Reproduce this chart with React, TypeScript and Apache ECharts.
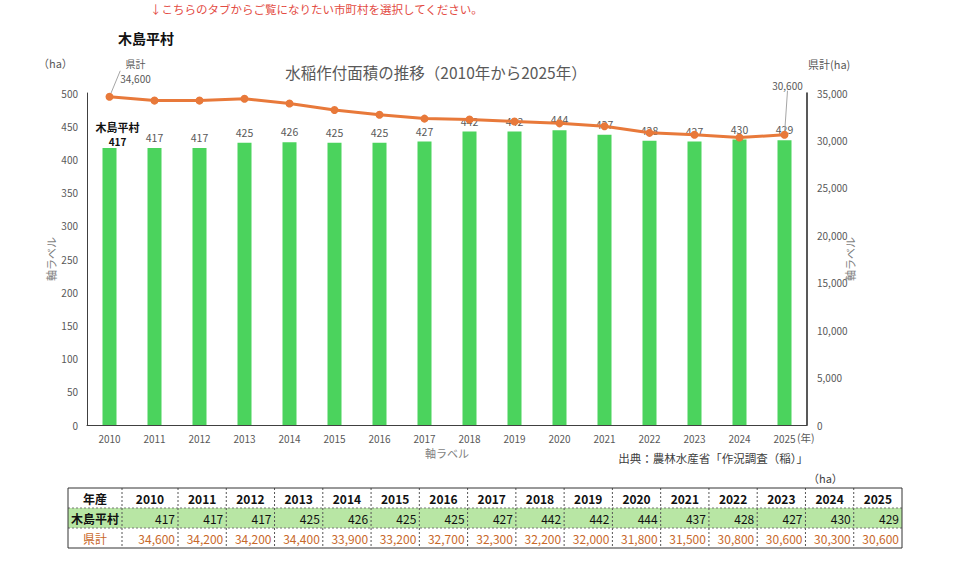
import React, { useEffect, useRef } from "react";
import * as echarts from "echarts";

const years = ["2010", "2011", "2012", "2013", "2014", "2015", "2016", "2017", "2018", "2019", "2020", "2021", "2022", "2023", "2024", "2025"];
const villageName = "木島平村";
const prefName = "県計";
const villageArea = [417, 417, 417, 425, 426, 425, 425, 427, 442, 442, 444, 437, 428, 427, 430, 429];
const prefArea = [34600, 34200, 34200, 34400, 33900, 33200, 32700, 32300, 32200, 32000, 31800, 31500, 30800, 30600, 30300, 30600];

const FONT = "'Noto Sans CJK JP', 'Noto Sans', sans-serif";
const GREEN = "#4bd35d";
const ORANGE = "#e8793a";
const GRAY = "#595959";

const fmt = (v: number) => v.toLocaleString("en-US");

// Summary table under the chart, drawn with graphic elements
function buildTable(): any[] {
  const left = 68;
  const right = 902;
  const top = 488;
  const rowH = 20;
  const edges = [left, 122, 178];
  const w = (right - 178) / (years.length - 1);
  for (let i = 1; i < years.length; i++) edges.push(178 + w * i);
  const bottom = top + rowH * 3;
  const els: any[] = [];
  els.push({ type: "rect", shape: { x: left, y: top + rowH, width: right - left, height: rowH }, style: { fill: "#b8e6a4" }, silent: true });
  for (let i = 1; i < edges.length - 1; i++) {
    els.push({ type: "line", shape: { x1: edges[i], y1: top, x2: edges[i], y2: bottom }, style: { stroke: "#555", lineWidth: 1, lineDash: [2, 2] }, silent: true });
  }
  [top + rowH, top + rowH * 2].forEach((y) => {
    els.push({ type: "line", shape: { x1: left, y1: y, x2: right, y2: y }, style: { stroke: "#777", lineWidth: 1, lineDash: [2, 2] }, silent: true });
  });
  els.push({ type: "rect", shape: { x: left, y: top, width: right - left, height: bottom - top }, style: { fill: "none", stroke: "#333", lineWidth: 1 }, silent: true });

  const cellText = (text: string, col: number, row: number, align: string, color: string, bold: boolean) => {
    const x0 = edges[col];
    const x1 = edges[col + 1];
    const x = align === "center" ? (x0 + x1) / 2 : x1 - 3;
    return {
      type: "text",
      x,
      y: top + rowH * row + rowH / 2,
      style: { text, fill: color, font: `${bold ? "bold " : ""}12px ${FONT}`, align, verticalAlign: "middle" },
      silent: true,
    };
  };
  els.push(cellText("年産", 0, 0, "center", "#111", true));
  els.push(cellText(villageName, 0, 1, "center", "#111", true));
  els.push(cellText(prefName, 0, 2, "center", "#c8682a", false));
  years.forEach((y, i) => {
    els.push(cellText(y, i + 1, 0, "center", "#111", true));
    els.push(cellText(String(villageArea[i]), i + 1, 1, "right", "#111", false));
    els.push(cellText(fmt(prefArea[i]), i + 1, 2, "right", "#c8682a", false));
  });
  return els;
}

export default function App() {
  const ref = useRef<HTMLDivElement>(null);

  useEffect(() => {
    document.body.style.margin = "0";
    if (!ref.current) return;
    const chart = echarts.init(ref.current, undefined, { renderer: "svg" });
    const last = years.length - 1;

    const option: any = {
      animation: false,
      backgroundColor: "#ffffff",
      textStyle: { fontFamily: FONT },
      grid: { left: 87, right: 153, top: 93, bottom: 143, containLabel: false },
      xAxis: {
        type: "category",
        data: years,
        name: "軸ラベル",
        nameLocation: "middle",
        nameGap: 22,
        nameMoveOverlap: false,
        nameTextStyle: { color: "#7f7f7f", fontSize: 11, fontFamily: FONT },
        axisLine: { show: true, lineStyle: { color: "#404040", width: 1 } },
        axisTick: { show: false },
        axisLabel: { color: GRAY, fontSize: 10, margin: 8, fontFamily: FONT },
      },
      yAxis: [
        {
          type: "value",
          min: 0,
          max: 500,
          interval: 50,
          name: "軸ラベル",
          nameLocation: "middle",
          nameGap: 31,
          nameRotate: 90,
          nameMoveOverlap: false,
          nameTextStyle: { color: "#7f7f7f", fontSize: 11, fontFamily: FONT },
          axisLine: { show: true, lineStyle: { color: "#404040", width: 1 } },
          axisTick: { show: false },
          splitLine: { show: false },
          axisLabel: { color: GRAY, fontSize: 10, margin: 9, fontFamily: FONT },
        },
        {
          type: "value",
          min: 0,
          max: 35000,
          interval: 5000,
          position: "right",
          name: "軸ラベル",
          nameLocation: "middle",
          nameGap: 37,
          nameRotate: 90,
          nameMoveOverlap: false,
          nameTextStyle: { color: "#7f7f7f", fontSize: 11, fontFamily: FONT },
          axisLine: { show: true, lineStyle: { color: "#222", width: 1.5 } },
          axisTick: { show: false },
          splitLine: { show: false },
          axisLabel: { color: GRAY, fontSize: 10, margin: 10, fontFamily: FONT, formatter: (v: number) => fmt(v) },
        },
      ],
      series: [
        {
          type: "bar",
          name: villageName,
          yAxisIndex: 0,
          barWidth: 14,
          itemStyle: { color: GREEN },
          data: villageArea.map((v, i) =>
            i === 0
              ? {
                  value: v,
                  label: {
                    show: true,
                    position: "top",
                    distance: 1,
                    offset: [8, 0],
                    formatter: `{n|${villageName}}\n{v|${v}}`,
                    rich: {
                      n: { fontSize: 11, fontWeight: "bold", color: "#111", lineHeight: 16, fontFamily: FONT },
                      v: { fontSize: 10, fontWeight: "bold", color: "#111", lineHeight: 12, fontFamily: FONT },
                    },
                  },
                }
              : v
          ),
          label: { show: true, position: "top", distance: 5, color: GRAY, fontSize: 10.5, fontFamily: FONT },
          z: 2,
        },
        {
          type: "line",
          name: prefName,
          yAxisIndex: 1,
          symbol: "circle",
          symbolSize: 8,
          lineStyle: { color: ORANGE, width: 3 },
          itemStyle: { color: ORANGE },
          data: prefArea.map((v, i) => {
            if (i === 0) {
              return {
                value: v,
                label: {
                  show: true,
                  position: "top",
                  formatter: `${prefName}\n${fmt(v)}`,
                  lineHeight: 15,
                  color: GRAY,
                  fontSize: 10,
                  fontFamily: FONT,
                },
              };
            }
            if (i === last) {
              return {
                value: v,
                label: { show: true, position: "top", formatter: fmt(v), color: GRAY, fontSize: 10, fontFamily: FONT },
              };
            }
            return v;
          }),
          label: { show: false },
          labelLayout: (p: any) => {
            if (p.dataIndex === 0) return { dx: 26, dy: -2 };
            if (p.dataIndex === last) return { dx: 3, dy: -35 };
            return {};
          },
          labelLine: { show: true, lineStyle: { color: "#a6a6a6", width: 1 } },
          z: 3,
        },
      ],
      graphic: [
        {
          type: "text",
          left: 150,
          top: 3,
          style: { text: "↓こちらのタブからご覧になりたい市町村を選択してください。", fill: "#e34b43", font: `11.5px ${FONT}` },
        },
        {
          type: "text",
          left: 118,
          top: 31,
          style: { text: villageName, fill: "#111", font: `bold 14px ${FONT}` },
        },
        {
          type: "text",
          x: 436,
          y: 72,
          style: { text: "水稲作付面積の推移（2010年から2025年）", fill: GRAY, font: `15.5px ${FONT}`, align: "center", verticalAlign: "middle" },
        },
        {
          type: "text",
          x: 38,
          y: 63,
          style: { text: "（ha）", fill: GRAY, font: `11px ${FONT}`, verticalAlign: "middle" },
        },
        {
          type: "text",
          x: 808,
          y: 64,
          style: { text: "県計(ha)", fill: GRAY, font: `11px ${FONT}`, verticalAlign: "middle" },
        },
        {
          type: "text",
          x: 797,
          y: 437,
          style: { text: "(年)", fill: GRAY, font: `10.5px ${FONT}`, verticalAlign: "middle" },
        },
        {
          type: "text",
          x: 808,
          y: 458,
          style: { text: "出典：農林水産省「作況調査（稲）」", fill: "#404040", font: `11.5px ${FONT}`, align: "right", verticalAlign: "middle" },
        },
        {
          type: "text",
          x: 808,
          y: 478,
          style: { text: "（ha）", fill: "#404040", font: `11px ${FONT}`, verticalAlign: "middle" },
        },
        ...buildTable(),
      ],
    };

    chart.setOption(option);
    return () => chart.dispose();
  }, []);

  return <div ref={ref} style={{ width: 960, height: 568 }} />;
}
